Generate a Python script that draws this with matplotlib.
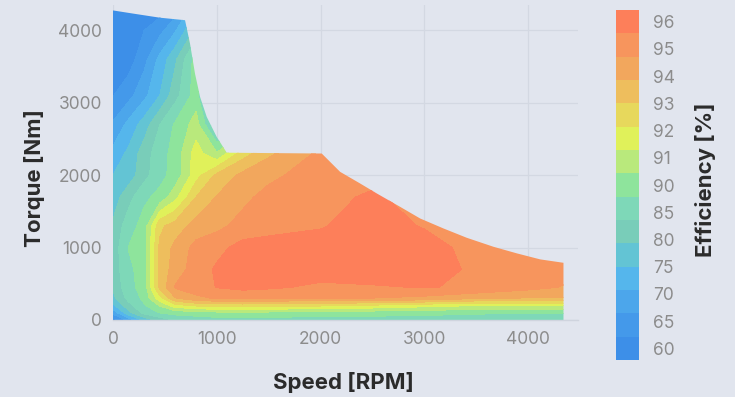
import numpy as np
import matplotlib
matplotlib.use("Agg")
import matplotlib.pyplot as plt
from matplotlib.colors import ListedColormap, BoundaryNorm
from matplotlib.patches import Polygon

plt.rcParams['font.family'] = ['Inter', 'DejaVu Sans']

# grid: speed [RPM] x torque [Nm] -> efficiency [%]
speed = [0, 150, 300, 450, 600, 800, 1000, 1250, 1500, 2000, 2500, 3000, 3500, 4000, 4400]
torque = [0, 100, 200, 300, 450, 700, 1000, 1300, 1700, 2000, 2300, 2700, 3100, 3600, 4300]
efficiency = [
    [58, 68, 76, 81, 84, 85.5, 86, 86, 86, 86, 85.8, 85.5, 85, 84.5, 84.5],
    [68, 78, 85, 88, 89.5, 90, 90.2, 90.3, 90.2, 90, 89.7, 89.3, 88.5, 88.3, 88.3],
    [74, 82, 87.5, 90.5, 91.8, 92.3, 92.5, 92.5, 92.4, 92.3, 92.0, 91.6, 91.3, 91.4, 91.4],
    [78, 85, 88.8, 91.8, 93.8, 94.5, 94.8, 94.9, 94.8, 94.7, 94.7, 94.5, 94.0, 93.8, 93.8],
    [80, 86.5, 89.5, 93.2, 94.8, 95.2, 95.6, 95.8, 95.7, 95.4, 95.5, 95.6, 95.5, 95.0, 94.6],
    [81, 87, 89.6, 93.2, 94.3, 95.1, 95.7, 96.2, 96.3, 96.1, 96.2, 96.0, 95.4, 95.1, 95.0],
    [81, 88, 90, 93.2, 94.1, 95.0, 95.3, 95.9, 96.1, 96.1, 96.3, 96.0, 95.2, 95.1, 95.0],
    [80, 86, 89.5, 92.8, 93.4, 94.2, 94.5, 95.0, 95.2, 95.5, 96.3, 95.5, 95.1, 95.0, 95.0],
    [77, 82, 87, 89, 91, 93.0, 93.9, 94.5, 95.0, 95.3, 95.7, 95.2, 95.1, 95.0, 95.0],
    [75, 77, 82, 86.5, 89.5, 91.8, 93.2, 94.1, 94.5, 95.2, 95.3, 95.1, 95.0, 95.0, 95.0],
    [72, 76, 81.5, 86, 89.5, 91.7, 90.5, 92.6, 93.7, 94.9, 95.0, 95.0, 95.0, 95.0, 95.0],
    [67, 72, 77, 83.5, 88.5, 90.8, 80, 88, 88, 88, 88, 88, 88, 88, 88],
    [62, 65, 69.5, 75, 82, 90, 70, 80, 80, 80, 80, 80, 80, 80, 80],
    [57, 60, 65, 72, 78.5, 90, 85, 85, 85, 85, 85, 85, 85, 85, 85],
    [54, 55, 56, 59, 64, 74, 80, 80, 80, 80, 80, 80, 80, 80, 80],
]

# max torque envelope
env_speed = [0, 0, 200, 450, 694, 742, 790, 839, 903, 999, 1096, 2011, 2188, 2381, 2542,
             2766, 2959, 3184, 3409, 3666, 3891, 4116, 4340, 4340]
env_torque = [0, 4275, 4230, 4175, 4140, 3816, 3402, 3080, 2805, 2529, 2310, 2299, 2046, 1885, 1747,
              1563, 1402, 1264, 1135, 1011, 920, 837, 790, 0]

tick_vals = [60, 65, 70, 75, 80, 85, 90, 91, 92, 93, 94, 95, 96]
band_colors = ['#3d8fe8', '#4499ea', '#4ca6eb', '#55b6ec', '#63c4d4', '#79cdb9', '#7ed8b8',
               '#8ee49c', '#b9e97c', '#e0f15a', '#e7d85c', '#eebe5d', '#f2a75d', '#f7955d', '#fd7f5a']

bg = '#e1e5ee'
fig = plt.figure(figsize=(7.35, 3.97), dpi=100, facecolor=bg)
ax = fig.add_axes([113 / 735, 77 / 397, 465 / 735, 315 / 397])
ax.set_facecolor(bg)

# colorbar is evenly spaced per label, so map efficiency onto label positions
tick_pos = np.linspace(0.5, 14.5, len(tick_vals))
Z = np.interp(np.array(efficiency), tick_vals, tick_pos)
levels = np.arange(16)
cmap = ListedColormap(band_colors)
norm = BoundaryNorm(levels, cmap.N)
cs = ax.contourf(speed, torque, Z, levels=levels, cmap=cmap, norm=norm, zorder=2)

env = Polygon(np.column_stack([env_speed, env_torque]), closed=True, transform=ax.transData,
              facecolor='none', edgecolor='none')
ax.add_patch(env)
cs.set_clip_path(env)

ax.set_xlim(0, 4480)
ax.set_ylim(0, 4350)
ax.set_xticks([0, 1000, 2000, 3000, 4000])
ax.set_yticks([0, 1000, 2000, 3000, 4000])
ax.grid(True, color='#d3d8e2', lw=0.9, zorder=0)
ax.set_axisbelow(True)
for s in ['top', 'right', 'left']:
    ax.spines[s].set_visible(False)
ax.spines['bottom'].set_color('#cfd4de')
ax.spines['bottom'].set_linewidth(1.0)
ax.tick_params(length=0, labelsize=12.5, colors='#8c8c8c', pad=8)

ax.set_xlabel('Speed [RPM]', fontsize=16, fontweight='bold', color='#2b2b2b', va='center')
ax.xaxis.set_label_coords(0.495, -0.197)
ax.set_ylabel('Torque [Nm]', fontsize=16, fontweight='bold', color='#2b2b2b', va='center')
ax.yaxis.set_label_coords(-0.168, 0.451)

cax = fig.add_axes([616 / 735, 37 / 397, 23 / 735, 350 / 397])
cb = fig.colorbar(cs, cax=cax)
cb.set_ticks(tick_pos)
cb.set_ticklabels([str(v) for v in tick_vals])
cb.outline.set_visible(False)
cax.minorticks_off()
cax.tick_params(which='both', length=0, labelsize=12.5, colors='#8c8c8c', pad=10)
cb.set_label('Efficiency [%]', fontsize=16, fontweight='bold', color='#2b2b2b', va='center')
cax.yaxis.set_label_coords(3.87, 0.514)

fig.savefig('out.png', dpi=100, facecolor=bg)
